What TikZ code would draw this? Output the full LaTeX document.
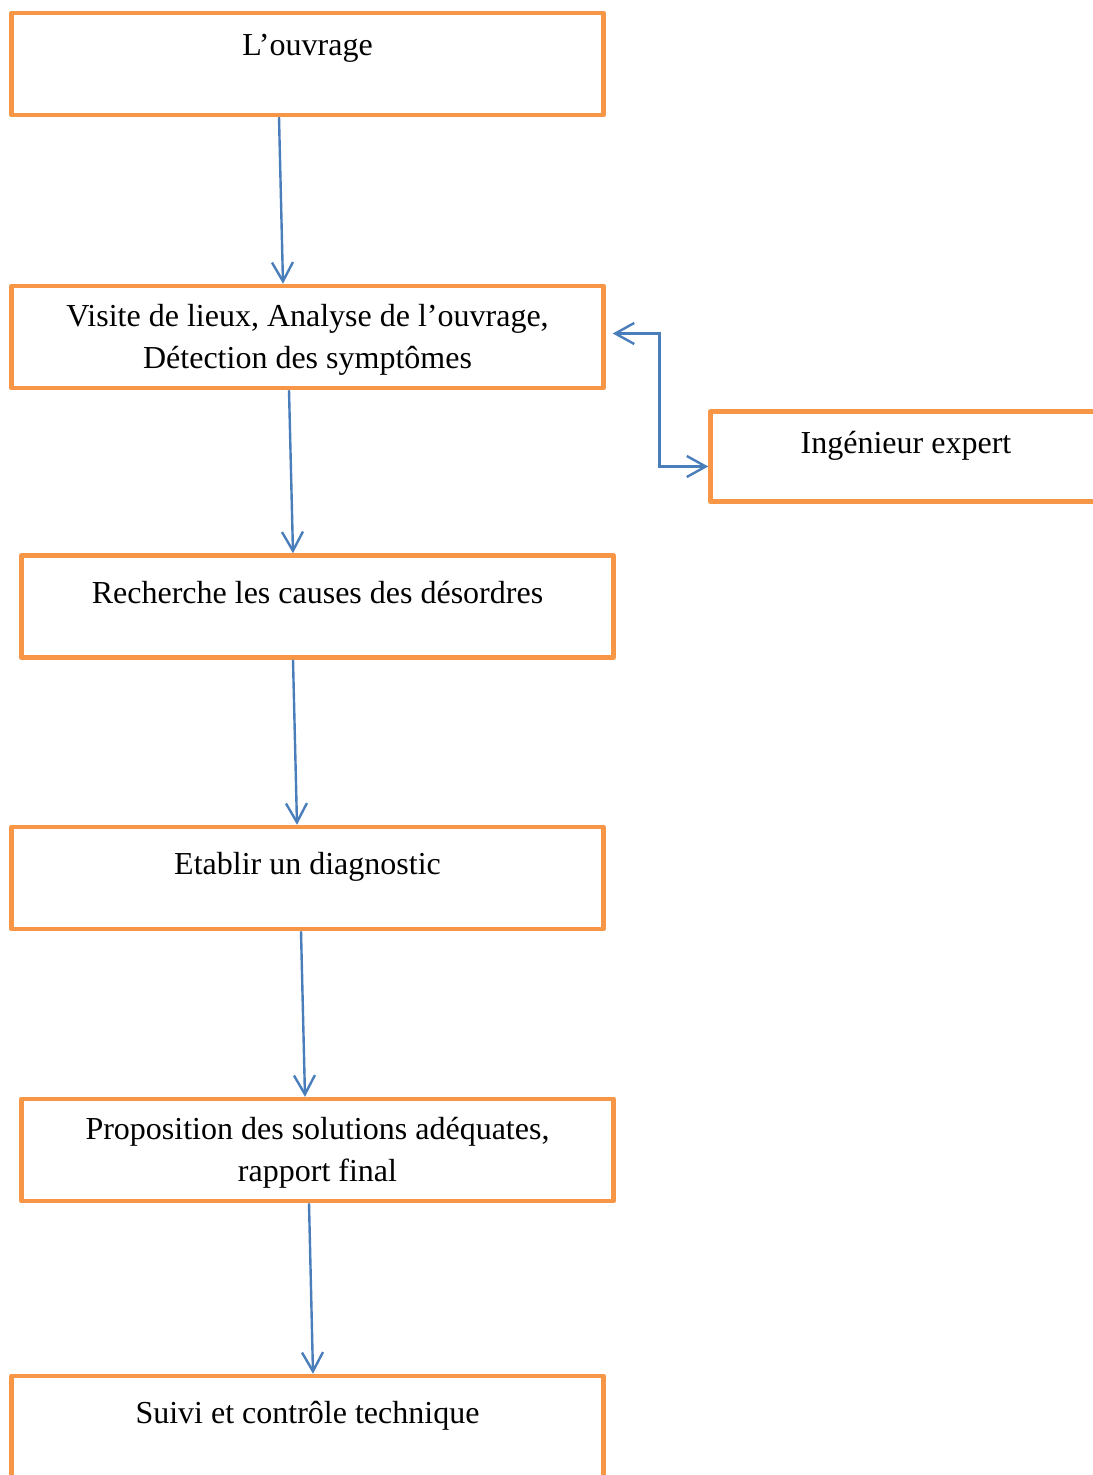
\documentclass[tikz,border=0pt]{standalone}
\usepackage{fontspec}
\setmainfont{Liberation Serif}
\usepackage{tikz}
\usetikzlibrary{arrows.meta}

\definecolor{boxorange}{HTML}{F79646}
\definecolor{flowblue}{HTML}{4A7EBB}

\begin{document}
\begin{tikzpicture}[x=0.5pt,y=-0.5pt,
	box/.style={draw=boxorange,line width=2.25pt,line join=round,inner sep=0pt,
		minimum width=296pt,minimum height=51pt},
	txt/.style={anchor=base,yshift=-#1,align=center,inner sep=0pt,
		font=\fontsize{16}{21}\selectfont},
	txt/.default=22pt,
	flow/.style={draw=flowblue,line width=1.2pt,
		arrows={-Straight Barb[length=9.5pt,width=10.5pt]}}]
	\useasboundingbox (0,0) rectangle (1092,1475);

	% -- Boxes
	\node[box,label={[txt=22.6pt]north:L’ouvrage}] (ouvrage) at (307.5,64) {};
	\node[box,label={[txt=42.6pt]north:{Visite de lieux, Analyse de l’ouvrage,\\Détection des symptômes}}] (visite) at (307.5,337) {};
	\node[box,label={[txt=24.9pt]north:Recherche les causes des désordres}] (causes) at (317.5,606.5) {};
	\node[box,label={[txt=24.9pt]north:Etablir un diagnostic}] (diagnostic) at (307.5,878) {};
	\node[box,label={[txt=42.6pt]north:{Proposition des solutions adéquates,\\rapport final}}] (solutions) at (317.5,1150) {};
	\node[box,label={[txt=25pt]north:Suivi et contrôle technique}] (suivi) at (307.5,1427) {};
	\node[box,minimum width=195.5pt,minimum height=45pt,
		label={[txt]north:Ingénieur expert}] (expert) at (906,456.5) {};

	% -- Arrows down
	\draw[flow] ([xshift=-14.25pt]ouvrage.south) -- ([xshift=-12.25pt]visite.north);
	\draw[flow] ([xshift=-9.25pt]visite.south) -- ([xshift=-12.25pt]causes.north);
	\draw[flow] ([xshift=-12.25pt]causes.south) -- ([xshift=-5.25pt]diagnostic.north);
	\draw[flow] ([xshift=-3.25pt]diagnostic.south) -- ([xshift=-6.25pt]solutions.north);
	\draw[flow] ([xshift=-4.25pt]solutions.south) -- ([xshift=2.75pt]suivi.north);

	% -- Expert link
	\draw[flow,arrows={Straight Barb[length=9.5pt,width=10.5pt]-Straight Barb[length=9.5pt,width=10.5pt]}]
		([xshift=3.5pt,yshift=1.75pt]visite.east) -- ++(23.3pt,0) |- ([yshift=-5pt]expert.west);
\end{tikzpicture}
\end{document}
